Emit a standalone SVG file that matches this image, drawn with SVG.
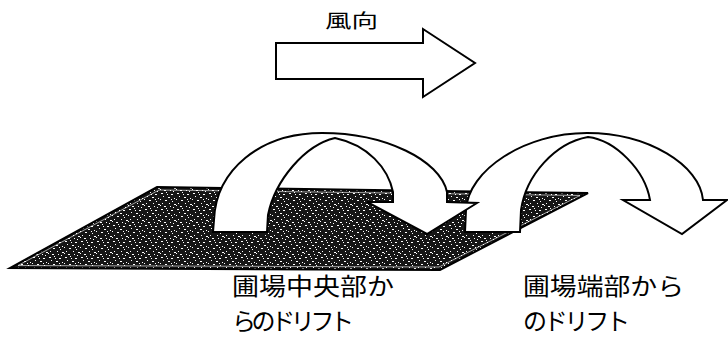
<svg xmlns="http://www.w3.org/2000/svg" width="728" height="340" viewBox="0 0 728 340">
<style>
.out{fill:#fff;stroke:#000;stroke-width:2;stroke-linejoin:miter}
.lbl{font-family:"Noto Sans CJK JP","Noto Sans CJK SC",sans-serif;font-size:24px;fill:#000}
.ttl{font-family:"Noto Sans CJK JP","Noto Sans CJK SC",sans-serif;font-size:19px;fill:#000}
</style>
<defs>
<pattern id="stip" width="16" height="16" patternUnits="userSpaceOnUse">
<rect width="16" height="16" fill="#161616"/>
<g fill="#fff">
<rect x="1" y="1" width="2" height="1"/><rect x="6" y="0" width="1" height="1"/><rect x="11" y="2" width="2" height="1"/>
<rect x="3" y="4" width="1" height="1"/><rect x="8" y="5" width="2" height="1"/><rect x="14" y="6" width="1" height="1"/>
<rect x="0" y="7" width="1" height="1"/><rect x="5" y="8" width="2" height="1"/><rect x="12" y="9" width="1" height="1"/>
<rect x="2" y="11" width="1" height="1"/><rect x="9" y="11" width="1" height="1"/><rect x="14" y="12" width="2" height="1"/>
<rect x="4" y="14" width="2" height="1"/><rect x="10" y="14" width="1" height="1"/><rect x="7" y="2" width="1" height="1"/>
<rect x="13" y="15" width="1" height="1"/><rect x="0" y="13" width="1" height="1"/><rect x="11" y="7" width="1" height="1"/>
</g>
</pattern>
</defs>

<g id="wind">
<path class="out" d="M276,43 L423,43 L423,29 L475,63 L423,97 L423,79 L276,79 Z"/>
<text class="ttl" x="325" y="28" textLength="53" lengthAdjust="spacingAndGlyphs">風向</text>
</g>

<g id="field">
<path d="M157,187 L588,193 L440,270 L10,268 Z" fill="url(#stip)" stroke="#000" stroke-width="2"/>
<path d="M159,190 L580,195.5 L439,267 L18,265.5 Z" fill="none" stroke="#fff" stroke-width="1" opacity="0.6"/>
</g>

<g id="drift-edge">
<path class="out" d="M465,232 L466,210 C468,170 525,133 587,133 C648,133 700,165 703,200 L727,200 L682,234 L623,200 L650,200 C645,170 615,140 588,137 C555,143 526,175 521,210 L520,232 Z"/>
</g>

<g id="drift-center">
<path class="out" d="M213,232 L214,220 C216,170 260,133 322,133 C385,133 440,160 447,192 L447,202 L477,203 L427,234 L367,202 L393,202 L393,192 C388,168 368,145 335,138 C305,145 275,180 268,215 L267,232 Z"/>
</g>

<g id="labels">
<text class="lbl" x="232" y="295" textLength="162" lengthAdjust="spacingAndGlyphs">圃場中央部か</text>
<text class="lbl" x="232" y="330" textLength="122">らのドリフト</text>
<text class="lbl" x="523" y="295" textLength="161" lengthAdjust="spacingAndGlyphs">圃場端部から</text>
<text class="lbl" x="523" y="330" textLength="107">のドリフト</text>
</g>
</svg>
